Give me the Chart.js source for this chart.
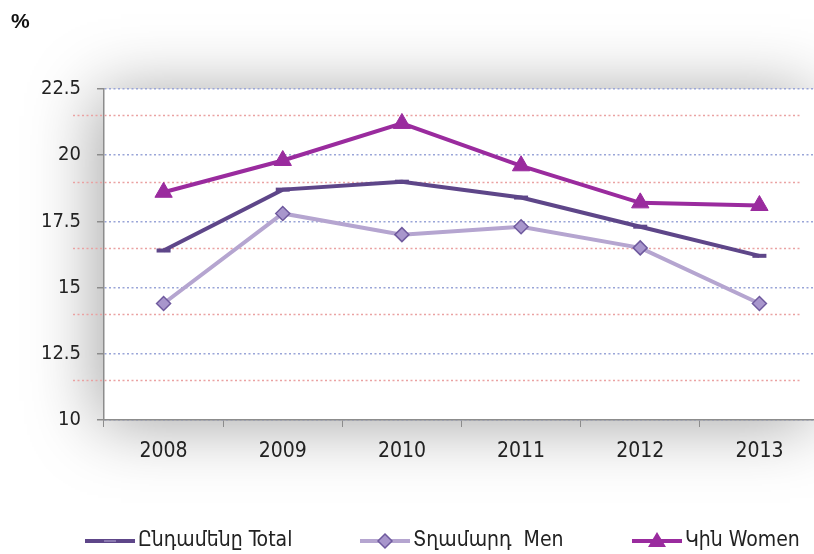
<!DOCTYPE html>
<html>
<head>
<meta charset="utf-8">
<script src="https://cdn.jsdelivr.net/npm/chart.js@4"></script>
<style>
  html, body { margin:0; padding:0; background:#fff; overflow:hidden; }
  #wrap { width:814px; height:554px; overflow:hidden; position:relative; }
  #wrap canvas { position:absolute; left:0; top:0; }
</style>
</head>
<body>
<div id="wrap"><canvas id="chart" width="830" height="554"></canvas></div>
<script>
const years = ['2008','2009','2010','2011','2012','2013'];
const total = [16.4, 18.7, 19.0, 18.4, 17.3, 16.2];
const men = [14.4, 17.8, 17.0, 17.3, 16.5, 14.4];
const women = [18.6, 19.8, 21.2, 19.6, 18.2, 18.1];
const yTicks = [10, 12.5, 15, 17.5, 20, 22.5];
const midLines = [11.5, 14, 16.5, 19, 21.5];
const seriesNames = ['Ընդամենը Total', 'Տղամարդ  Men', 'Կին Women'];

const FONT = "'Liberation Sans Narrow', 'DejaVu Sans Condensed', 'Noto Sans', sans-serif";
const cTotal = '#5e4689', cMen = '#b5a5d0', cWomen = '#9a2b9e';

// shadowed plot background, red dotted lines, "%" and legend
const decor = {
  id: 'decor',
  beforeDraw(chart) {
    const {ctx, chartArea:a} = chart;
    ctx.save();
    ctx.shadowColor = 'rgba(0,0,0,0.36)';
    ctx.shadowBlur = 65;
    ctx.shadowOffsetX = -6;
    ctx.shadowOffsetY = 4;
    ctx.fillStyle = '#fff';
    ctx.fillRect(a.left, a.top, a.right - a.left, a.bottom - a.top);
    ctx.restore();
  },
  beforeDatasetsDraw(chart) {
    const {ctx} = chart;
    const y = chart.scales.y;
    ctx.save();
    ctx.strokeStyle = '#eaa2a2';
    ctx.lineWidth = 1.5;
    ctx.setLineDash([2, 2.5]);
    midLines.forEach(v => {
      const py = Math.round(y.getPixelForValue(v)) + 0.5;
      ctx.beginPath();
      ctx.moveTo(73, py);
      ctx.lineTo(800, py);
      ctx.stroke();
    });
    ctx.restore();
  },
  afterDraw(chart) {
    const {ctx} = chart;
    ctx.save();
    ctx.fillStyle = '#111';
    ctx.font = "bold 21px 'Liberation Sans', Arial, sans-serif";
    ctx.textBaseline = 'middle';
    ctx.fillText('%', 11, 22);
    // legend
    const xs = [85, 360, 632];
    const ly = 541;
    chart.data.datasets.forEach((ds, i) => {
      const x = xs[i];
      ctx.strokeStyle = ds.borderColor;
      ctx.lineWidth = 4;
      ctx.setLineDash([]);
      ctx.beginPath();
      ctx.moveTo(x, ly);
      ctx.lineTo(x + 50, ly);
      ctx.stroke();
      const cx = x + 25;
      ctx.fillStyle = ds.pointBackgroundColor;
      ctx.strokeStyle = ds.pointBorderColor;
      ctx.lineWidth = 1.5;
      if (ds.pointStyle === 'rectRot') {
        ctx.beginPath();
        ctx.moveTo(cx, ly - 7); ctx.lineTo(cx + 7, ly); ctx.lineTo(cx, ly + 7); ctx.lineTo(cx - 7, ly);
        ctx.closePath(); ctx.fill(); ctx.stroke();
      } else if (ds.pointStyle === 'triangle') {
        ctx.beginPath();
        ctx.moveTo(cx, ly - 9); ctx.lineTo(cx + 9, ly + 6); ctx.lineTo(cx - 9, ly + 6);
        ctx.closePath(); ctx.fill();
      } else {
        ctx.strokeStyle = '#8a78b0';
        ctx.lineWidth = 2;
        ctx.beginPath(); ctx.moveTo(cx - 6, ly); ctx.lineTo(cx + 6, ly); ctx.stroke();
      }
      ctx.fillStyle = '#222';
      ctx.font = '21px ' + FONT;
      ctx.fillText(ds.label, x + 53, ly);
    });
    ctx.restore();
  }
};

new Chart(document.getElementById('chart'), {
  type: 'line',
  data: {
    labels: years,
    datasets: [
      { label: seriesNames[0], data: total, borderColor: cTotal, borderWidth: 4,
        pointStyle: 'line', pointRadius: 7, pointBorderWidth: 4,
        pointBackgroundColor: cTotal, pointBorderColor: cTotal, tension: 0 },
      { label: seriesNames[1], data: men, borderColor: cMen, borderWidth: 4,
        pointStyle: 'rectRot', pointRadius: 7, pointBorderWidth: 1.5,
        pointBackgroundColor: '#a896cc', pointBorderColor: '#6f5a9e', tension: 0 },
      { label: seriesNames[2], data: women, borderColor: cWomen, borderWidth: 4,
        pointStyle: 'triangle', pointRadius: 10, pointBorderWidth: 1,
        pointBackgroundColor: cWomen, pointBorderColor: cWomen, tension: 0 }
    ]
  },
  options: {
    responsive: false,
    animation: false,
    layout: { padding: { left: 0, top: 89, right: 3, bottom: 0 } },
    plugins: { legend: { display: false }, tooltip: { enabled: false } },
    scales: {
      x: {
        offset: true,
        afterFit(s) { s.height = 134; },
        border: { color: '#8c8c8c', width: 1.5 },
        grid: { offset: true, drawOnChartArea: false, tickLength: 7, color: '#8c8c8c' },
        ticks: { color: '#222', padding: 12, font: { family: FONT, size: 21 } }
      },
      y: {
        min: 10, max: 22.5,
        afterFit(s) { s.width = 104; },
        afterBuildTicks(s) { s.ticks = yTicks.map(v => ({ value: v })); },
        border: { color: '#8c8c8c', width: 1.5, dash: [2, 2.5] },
        grid: { color: '#9aa5d8', lineWidth: 1.5,
                tickColor: '#8c8c8c', tickBorderDash: [], tickLength: 7 },
        ticks: { color: '#222', padding: 16, font: { family: FONT, size: 20 } }
      }
    }
  },
  plugins: [decor]
});
</script>
</body>
</html>
